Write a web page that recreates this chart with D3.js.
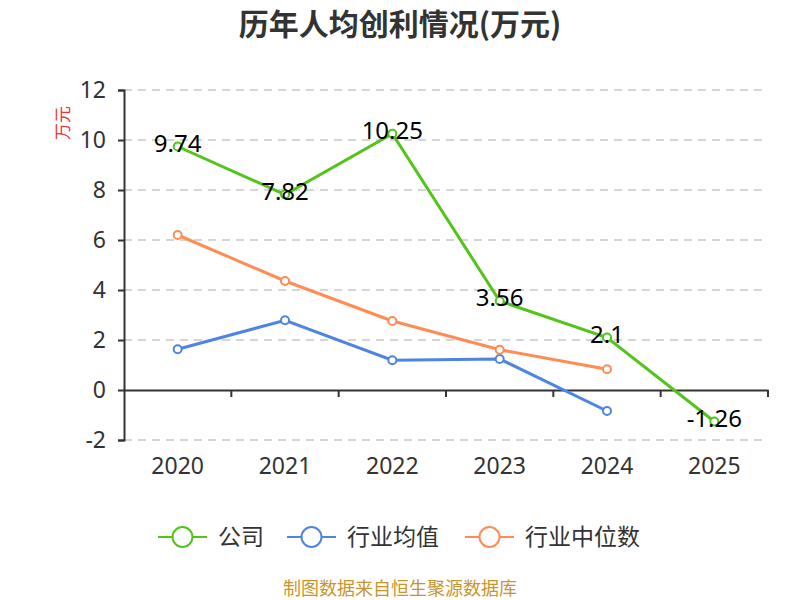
<!DOCTYPE html>
<html>
<head>
<meta charset="utf-8">
<script src="https://cdn.jsdelivr.net/npm/d3@7"></script>
<style>
  body { margin: 0; background: #fff; }
  text { font-family: "Noto Sans CJK SC", "Noto Sans", sans-serif; }
</style>
</head>
<body>
<svg id="chart" width="800" height="600"></svg>
<script>
// data
const years = ["2020", "2021", "2022", "2023", "2024", "2025"];
const company = [9.74, 7.82, 10.25, 3.56, 2.1, -1.26];
const industryAvg = [1.63, 2.79, 1.19, 1.24, -0.84];
const industryMedian = [6.2, 4.36, 2.76, 1.61, 0.83];
const yTicks = [-2, 0, 2, 4, 6, 8, 10, 12];

const series = [
  { name: "公司", values: company, color: "#52c41a", labels: true },
  { name: "行业均值", values: industryAvg, color: "#4e84e4", labels: false },
  { name: "行业中位数", values: industryMedian, color: "#ff8c55", labels: false },
];

const svg = d3.select("#chart");
const plotLeft = 124, plotRight = 768, plotTop = 90, plotBottom = 440;

const x = d3.scaleBand().domain(years).range([plotLeft, plotRight]);
const y = d3.scaleLinear().domain([-2, 12]).range([plotBottom, plotTop]);

// title
svg.append("text")
  .attr("x", 400).attr("y", 35)
  .attr("text-anchor", "middle")
  .style("font-size", "30px").style("font-weight", "bold").style("fill", "#333")
  .text("历年人均创利情况(万元)");

// grid
svg.append("g")
  .selectAll("line")
  .data(yTicks.filter(d => d !== 0))
  .enter()
  .append("line")
  .attr("x1", plotLeft).attr("x2", plotRight)
  .attr("y1", d => y(d)).attr("y2", d => y(d))
  .style("stroke", "#c8c8c8").style("stroke-dasharray", "8,6").style("stroke-width", 1.5);

// y axis
const yAxis = svg.append("g")
  .attr("transform", `translate(${plotLeft},0)`)
  .call(d3.axisLeft(y).tickValues(yTicks).tickFormat(d => String(d)).tickSize(6).tickPadding(12));
yAxis.select(".domain").style("stroke", "#333").style("stroke-width", 2);
yAxis.selectAll(".tick line").style("stroke", "#333").style("stroke-width", 2);
yAxis.selectAll("text").style("font-size", "23px").style("fill", "#333")
  .style("font-family", "'Noto Sans', sans-serif");

// x axis at zero
const xAxis = svg.append("g")
  .attr("transform", `translate(0,${y(0)})`)
  .call(d3.axisBottom(x).tickSize(0).tickFormat(""));
xAxis.select(".domain").style("stroke", "#333").style("stroke-width", 2);
svg.append("g")
  .selectAll("line")
  .data(years)
  .enter()
  .append("line")
  .attr("x1", d => x(d) + x.bandwidth()).attr("x2", d => x(d) + x.bandwidth())
  .attr("y1", y(0)).attr("y2", y(0) + 7)
  .style("stroke", "#333").style("stroke-width", 2);
svg.append("g")
  .selectAll("text")
  .data(years)
  .enter()
  .append("text")
  .attr("x", d => x(d) + x.bandwidth() / 2)
  .attr("y", 474)
  .attr("text-anchor", "middle")
  .style("font-size", "23px").style("fill", "#333")
  .style("font-family", "'Noto Sans', sans-serif")
  .text(d => d);

// y axis name
svg.append("text")
  .attr("transform", "translate(69,123) rotate(-90)")
  .attr("text-anchor", "middle")
  .style("font-size", "17px").style("fill", "#f03030")
  .text("万元");

// lines
const line = d3.line()
  .x((d, i) => x(years[i]) + x.bandwidth() / 2)
  .y(d => y(d));

series.forEach(function (s) {
  svg.append("path")
    .attr("d", line(s.values))
    .style("fill", "none").style("stroke", s.color).style("stroke-width", 3);
  svg.append("g")
    .selectAll("circle")
    .data(s.values)
    .enter()
    .append("circle")
    .attr("cx", (d, i) => x(years[i]) + x.bandwidth() / 2)
    .attr("cy", d => y(d))
    .attr("r", 4)
    .style("fill", "#fff").style("stroke", s.color).style("stroke-width", 2);
  if (s.labels) {
    svg.append("g")
      .selectAll("text")
      .data(s.values)
      .enter()
      .append("text")
      .attr("x", (d, i) => x(years[i]) + x.bandwidth() / 2)
      .attr("y", d => y(d) - 3)
      .attr("dy", "0.35em")
      .attr("text-anchor", "middle")
      .style("font-size", "24px").style("fill", "#000")
      .style("font-family", "'Noto Sans', sans-serif")
      .text(d => d);
  }
});

// legend
const legendX = [158, 287, 465];
const legend = svg.append("g")
  .selectAll("g")
  .data(series)
  .enter()
  .append("g")
  .attr("transform", (d, i) => `translate(${legendX[i]},537)`);
legend.append("line")
  .attr("x1", 0).attr("x2", 49)
  .style("stroke", d => d.color).style("stroke-width", 2);
legend.append("circle")
  .attr("cx", 24.5).attr("r", 10)
  .style("fill", "#fff").style("stroke", d => d.color).style("stroke-width", 2);
legend.append("text")
  .attr("x", 60).attr("dy", "0.35em")
  .style("font-size", "23px").style("fill", "#333")
  .text(d => d.name);

// footer
svg.append("text")
  .attr("x", 400).attr("y", 595)
  .attr("text-anchor", "middle")
  .style("font-size", "18px").style("fill", "#c8952c")
  .text("制图数据来自恒生聚源数据库");
</script>
</body>
</html>
